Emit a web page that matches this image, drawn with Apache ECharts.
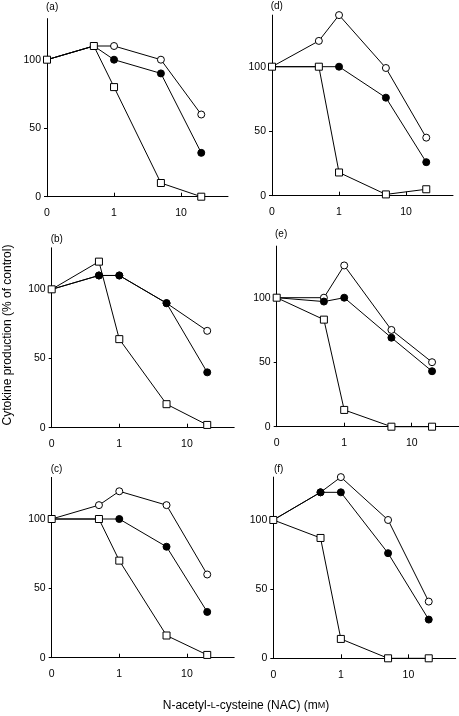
<!DOCTYPE html>
<html><head><meta charset="utf-8">
<script src="https://cdn.jsdelivr.net/npm/echarts@6/dist/echarts.min.js"></script>
<style>html,body{margin:0;padding:0;background:#fff}#c{width:459px;height:716px}</style>
</head><body><div id="c"></div>
<script>
// NAC concentration (mM); 0 is drawn at the left axis position (0.1 on the log scale)
const doses = [0, 0.5, 1, 5, 20];
const xTickLabels = ['0', '1', '10'];
const yTickValues = [0, 50, 100];
const panelNames = ['(a)', '(b)', '(c)', '(d)', '(e)', '(f)'];
const yMax = [130, 130, 130, 140, 140, 131];

const openA = [100, 110, 110, 100, 60];
const filledA = [100, 110, 100, 90, 32];
const squareA = [100, 110, 80, 10, 0];

const openB = [100, 110, 110, 90, 70];
const filledB = [100, 110, 110, 90, 40];
const squareB = [100, 120, 64, 17, 2];

const openC = [100, 110, 120, 110, 60];
const filledC = [100, 100, 100, 80, 33];
const squareC = [100, 100, 70, 16, 2];

const openD = [100, 120, 140, 99, 45];
const filledD = [100, 100, 100, 76, 26];
const squareD = [100, 100, 18, 1, 5];

const openE = [100, 100, 125, 75, 50];
const filledE = [100, 97, 100, 69, 43];
const squareE = [100, 83, 13, 0, 0];

const openF = [100, 120, 131, 100, 41];
const filledF = [100, 120, 120, 76, 28];
const squareF = [100, 87, 14, 0, 0];

const panels = [
  [openA, filledA, squareA], [openB, filledB, squareB], [openC, filledC, squareC],
  [openD, filledD, squareD], [openE, filledE, squareE], [openF, filledF, squareF]
];

// layout (pixels)
const grids = [
  {left: 47, top: 18.6, width: 181, height: 178.1},
  {left: 51.7, top: 247.8, width: 182.5, height: 179.9},
  {left: 51.7, top: 477.4, width: 182.5, height: 180.3},
  {left: 272, top: 15.1, width: 181, height: 180.6},
  {left: 276.7, top: 246.1, width: 183, height: 180.6},
  {left: 273.3, top: 477.1, width: 182.4, height: 181.2}
];
const labelPos = [[46, 2], [50.7, 234], [50.7, 464], [270.7, 1.3], [275, 229], [274, 464]];

const FONT = '"Liberation Sans", Arial, Helvetica, sans-serif';
const xpos = v => v === 0 ? -1 : Math.log10(v);
const xTickVals = [-1, 0, 1];

const option = {
  animation: false,
  backgroundColor: '#fff',
  textStyle: {fontFamily: FONT},
  title: panelNames.map((t, i) => ({
    text: t, left: labelPos[i][0], top: labelPos[i][1], padding: 0,
    textStyle: {fontSize: 10, fontWeight: 'normal', color: '#000', fontFamily: FONT}
  })),
  grid: grids.map(g => Object.assign({containLabel: false}, g)),
  xAxis: grids.map((g, i) => ({
    gridIndex: i, type: 'value', min: -1, max: 1.7,
    axisLine: {onZero: false, lineStyle: {color: '#000', width: 1}},
    axisTick: {inside: true, length: 4, customValues: xTickVals, lineStyle: {color: '#000'}},
    axisLabel: {customValues: xTickVals, margin: 11, fontSize: 10.5, color: '#000', fontFamily: FONT,
      formatter: v => xTickLabels[xTickVals.indexOf(Math.round(v))] || ''},
    splitLine: {show: false}
  })),
  yAxis: grids.map((g, i) => ({
    gridIndex: i, type: 'value', min: 0, max: yMax[i],
    axisLine: {show: true, onZero: false, lineStyle: {color: '#000', width: 1}},
    axisTick: {show: true, inside: false, length: 3, customValues: yTickValues, lineStyle: {color: '#000'}},
    axisLabel: {customValues: yTickValues, margin: 6, fontSize: 10.5, color: '#000', fontFamily: FONT},
    splitLine: {show: false}
  })),
  graphic: [
    {type: 'text', x: 8, y: 335, rotation: Math.PI / 2,
      style: {text: 'Cytokine production (% of control)', font: '12px ' + FONT, fill: '#000',
        textAlign: 'center', textVerticalAlign: 'middle'}},
    {type: 'text', x: 246, y: 706,
      style: {rich: {sc: {fontSize: 9, fontFamily: FONT, fill: '#000'}, n: {fontSize: 12, fontFamily: FONT, fill: '#000'}},
        text: '{n|N-acetyl-}{sc|L}{n|-cysteine (NAC) (m}{sc|M}{n|)}', textAlign: 'center', textVerticalAlign: 'middle'}}
  ],
  series: []
};

panels.forEach((p, i) => {
  const [open, filled, square] = p;
  const mk = (vals, hideWhere) => doses.map((d, k) => {
    const item = {value: [xpos(d), vals[k]]};
    if (hideWhere && hideWhere(k)) item.symbol = 'none';
    return item;
  });
  const underSquare = vals => k => vals[k] === square[k];
  const common = {type: 'line', xAxisIndex: i, yAxisIndex: i, clip: false, symbolSize: 7};
  option.series.push(Object.assign({}, common, {
    z: 2, data: mk(open, underSquare(open)), symbol: 'circle',
    lineStyle: {color: '#000', width: 1}, itemStyle: {color: '#fff', borderColor: '#000', borderWidth: 1}
  }));
  option.series.push(Object.assign({}, common, {
    z: 3, data: mk(filled, underSquare(filled)), symbol: 'circle',
    lineStyle: {color: '#000', width: 1}, itemStyle: {color: '#000', borderColor: '#000', borderWidth: 1}
  }));
  option.series.push(Object.assign({}, common, {
    z: 4, data: mk(square), symbol: 'rect',
    lineStyle: {color: '#000', width: 1}, itemStyle: {color: '#fff', borderColor: '#000', borderWidth: 1}
  }));
});

const chart = echarts.init(document.getElementById('c'), null, {renderer: 'canvas'});
chart.setOption(option);
</script>
</body></html>
